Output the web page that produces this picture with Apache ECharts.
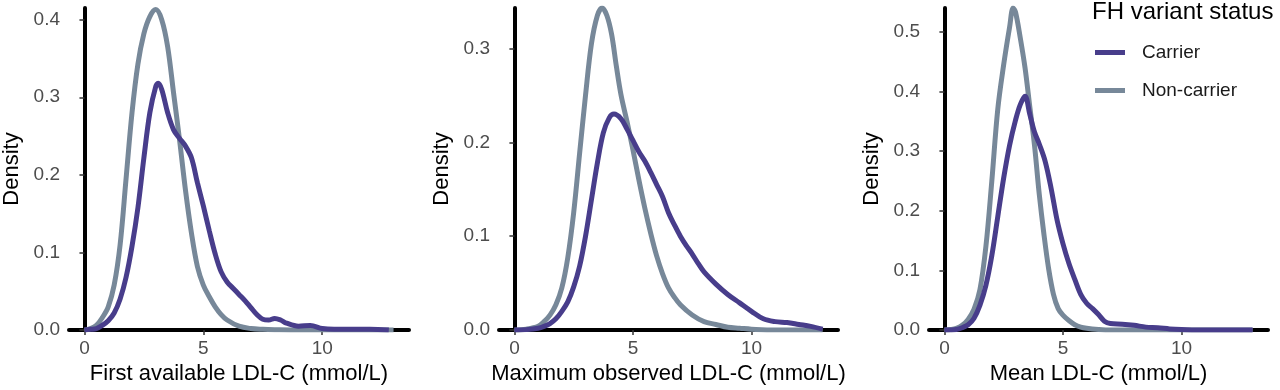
<!DOCTYPE html>
<html>
<head>
<meta charset="utf-8">
<script src="https://cdn.jsdelivr.net/npm/echarts@6/dist/echarts.min.js"></script>
<style>
  html, body { margin: 0; padding: 0; background: #fff; }
  #chart { width: 1280px; height: 390px; }
</style>
</head>
<body>
<div id="chart"></div>
<script>
// axis titles, one per panel
const panelNames = [
  'First available LDL-C (mmol/L)',
  'Maximum observed LDL-C (mmol/L)',
  'Mean LDL-C (mmol/L)'
]
const groupNames = ['Carrier', 'Non-carrier']
const xTicks = [0, 5, 10]
const yTicks = [
  [0, 0.1, 0.2, 0.3, 0.4],
  [0, 0.1, 0.2, 0.3],
  [0, 0.1, 0.2, 0.3, 0.4, 0.5]
]
const yMax = [0.415, 0.343, 0.54]

// density curves, [LDL-C, density]
const firstCarrier = [
  [0, 0], [0.25, 0.001], [0.5, 0.002], [0.75, 0.006], [1, 0.012], [1.25, 0.022],
  [1.5, 0.04], [1.75, 0.068], [2, 0.108], [2.25, 0.158], [2.5, 0.222], [2.75, 0.28],
  [3, 0.314], [3.1, 0.318], [3.25, 0.31], [3.5, 0.28], [3.75, 0.258], [4, 0.247],
  [4.25, 0.237], [4.5, 0.222], [4.75, 0.19], [5, 0.16], [5.25, 0.128], [5.5, 0.098],
  [5.75, 0.075], [6, 0.062], [6.25, 0.054], [6.5, 0.046], [6.75, 0.038], [7, 0.029],
  [7.25, 0.02], [7.5, 0.014], [7.75, 0.013], [8, 0.015], [8.25, 0.013], [8.5, 0.009],
  [9, 0.005], [9.5, 0.006], [10, 0.002], [10.5, 0.001], [11, 0.001], [12, 0.001], [12.8, 0]
]
const firstNonCarrier = [
  [0, 0], [0.25, 0.002], [0.5, 0.006], [0.75, 0.016], [1, 0.03], [1.25, 0.058],
  [1.5, 0.11], [1.75, 0.195], [2, 0.28], [2.25, 0.343], [2.5, 0.382], [2.75, 0.404],
  [3, 0.413], [3.25, 0.4], [3.5, 0.365], [3.75, 0.305], [4, 0.245], [4.25, 0.18],
  [4.5, 0.125], [4.75, 0.082], [5, 0.058], [5.25, 0.043], [5.5, 0.03], [5.75, 0.02],
  [6, 0.013], [6.5, 0.005], [7, 0.002], [7.5, 0.001], [8, 0.0005], [9, 0], [13, 0]
]
const maxCarrier = [
  [0, 0], [0.5, 0.0005], [1, 0.002], [1.25, 0.004], [1.5, 0.007], [1.75, 0.012],
  [2, 0.02], [2.25, 0.03], [2.5, 0.046], [2.75, 0.068], [3, 0.1], [3.25, 0.139],
  [3.5, 0.178], [3.75, 0.21], [4, 0.226], [4.2, 0.23], [4.5, 0.225], [4.75, 0.214],
  [5, 0.202], [5.25, 0.19], [5.5, 0.18], [5.75, 0.168], [6, 0.155], [6.25, 0.142],
  [6.5, 0.125], [6.75, 0.112], [7, 0.1], [7.25, 0.09], [7.5, 0.081], [7.75, 0.071],
  [8, 0.062], [8.5, 0.049], [9, 0.038], [9.5, 0.029], [10, 0.02], [10.5, 0.012],
  [11, 0.009], [11.5, 0.008], [12, 0.006], [12.5, 0.004], [13, 0.001]
]
const maxNonCarrier = [
  [0, 0], [0.5, 0.001], [1, 0.004], [1.25, 0.009], [1.5, 0.016], [1.75, 0.027],
  [2, 0.045], [2.25, 0.077], [2.5, 0.125], [2.75, 0.188], [3, 0.25], [3.25, 0.305],
  [3.5, 0.335], [3.7, 0.343], [3.9, 0.335], [4.1, 0.315], [4.3, 0.281], [4.5, 0.25],
  [4.75, 0.222], [5, 0.192], [5.25, 0.16], [5.5, 0.13], [5.75, 0.103], [6, 0.079],
  [6.25, 0.06], [6.5, 0.045], [6.75, 0.035], [7, 0.027], [7.5, 0.016], [8, 0.009],
  [8.5, 0.006], [9, 0.003], [9.5, 0.002], [10, 0.001], [11, 0], [13, 0]
]
const meanCarrier = [
  [0, 0], [0.5, 0.001], [0.75, 0.004], [1, 0.009], [1.25, 0.02], [1.5, 0.042],
  [1.75, 0.075], [2, 0.125], [2.25, 0.19], [2.5, 0.255], [2.75, 0.31], [3, 0.352],
  [3.2, 0.378], [3.4, 0.392], [3.6, 0.362], [3.8, 0.332], [4, 0.312], [4.25, 0.283],
  [4.5, 0.238], [4.75, 0.185], [5, 0.145], [5.25, 0.112], [5.5, 0.085], [5.75, 0.06],
  [6, 0.045], [6.25, 0.036], [6.5, 0.026], [6.75, 0.015], [7, 0.011], [7.5, 0.01],
  [8, 0.008], [8.5, 0.005], [9, 0.004], [9.5, 0.002], [10, 0.001], [11, 0], [13, 0]
]
const meanNonCarrier = [
  [0, 0], [0.25, 0.001], [0.5, 0.003], [0.75, 0.008], [1, 0.018], [1.25, 0.035],
  [1.5, 0.068], [1.75, 0.14], [2, 0.25], [2.25, 0.37], [2.5, 0.445], [2.75, 0.508],
  [2.9, 0.54], [3, 0.533], [3.2, 0.49], [3.4, 0.44], [3.6, 0.375], [3.8, 0.31],
  [4, 0.228], [4.2, 0.16], [4.4, 0.102], [4.6, 0.06], [4.8, 0.036], [5, 0.025],
  [5.25, 0.016], [5.5, 0.009], [5.75, 0.005], [6, 0.003], [6.5, 0.001], [7, 0], [13, 0]
]

const panelData = [
  [firstCarrier, firstNonCarrier],
  [maxCarrier, maxNonCarrier],
  [meanCarrier, meanNonCarrier]
]
const colors = ['#483D8B', '#778899']
const font = 'Liberation Sans, Arial, sans-serif'
const gridLeft = [68, 499, 929]
const gridWidth = [341, 339, 339]

const grids = []
const xAxes = []
const yAxes = []
const series = []

panelNames.forEach(function(name, i) {
  grids.push({
    left: gridLeft[i],
    top: 8,
    width: gridWidth[i],
    height: 323.5,
    containLabel: false
  })
  xAxes.push({
    gridIndex: i,
    type: 'value',
    min: -0.65,
    max: 13.65,
    name: name,
    nameLocation: 'middle',
    nameGap: 32,
    nameTextStyle: { fontSize: 22, color: '#000', fontFamily: font },
    axisLine: { show: true, onZero: false, lineStyle: { color: '#000', width: 4 } },
    axisTick: { show: true, length: 5, customValues: xTicks, lineStyle: { color: '#333', width: 1.5 } },
    axisLabel: { customValues: xTicks, fontSize: 19, color: '#4d4d4d', margin: 9, fontFamily: font },
    splitLine: { show: false }
  })
  yAxes.push({
    gridIndex: i,
    type: 'value',
    min: 0,
    max: yMax[i],
    name: 'Density',
    nameLocation: 'middle',
    nameGap: 46,
    nameRotate: 90,
    nameTextStyle: { fontSize: 22, color: '#000', fontFamily: font },
    axisLine: { show: true, lineStyle: { color: '#000', width: 4 } },
    axisTick: { show: true, length: 5, customValues: yTicks[i], lineStyle: { color: '#333', width: 1.5 } },
    axisLabel: {
      customValues: yTicks[i],
      fontSize: 19,
      color: '#4d4d4d',
      margin: 9,
      fontFamily: font,
      formatter: function(v) { return v.toFixed(1) }
    },
    splitLine: { show: false }
  })
  // non-carrier first so the carrier curve sits on top
  for (let g = 1; g >= 0; g--) {
    series.push({
      name: groupNames[g],
      type: 'line',
      xAxisIndex: i,
      yAxisIndex: i,
      data: panelData[i][g],
      symbol: 'none',
      smooth: 0.35,
      lineStyle: { color: colors[g], width: 5 },
      itemStyle: { color: colors[g] }
    })
  }
})

const chart = echarts.init(document.getElementById('chart'))
chart.setOption({
  animation: false,
  title: {
    text: 'FH variant status',
    left: 1092,
    top: 0,
    padding: 0,
    textStyle: { fontSize: 24, fontWeight: 'normal', color: '#000', fontFamily: font }
  },
  legend: {
    data: groupNames,
    orient: 'vertical',
    left: 1095,
    top: 43,
    icon: 'rect',
    itemWidth: 30,
    itemHeight: 5,
    itemGap: 19,
    padding: 0,
    textStyle: { fontSize: 19, color: '#1a1a1a', fontFamily: font, padding: [0, 0, 0, 12] }
  },
  grid: grids,
  xAxis: xAxes,
  yAxis: yAxes,
  series: series
})
</script>
</body>
</html>
